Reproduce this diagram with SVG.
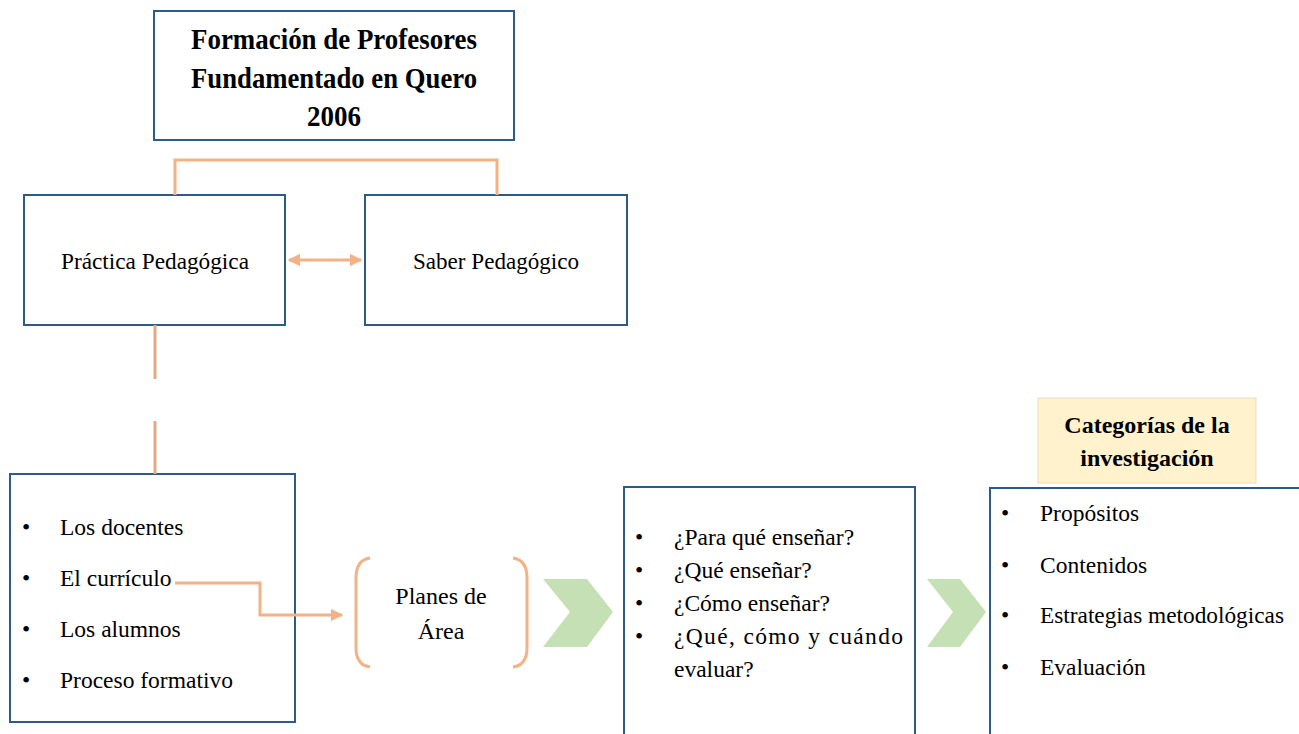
<svg xmlns="http://www.w3.org/2000/svg" width="1299" height="734" viewBox="0 0 1299 734">
<style>
.box{fill:#fff;stroke:#2E5A87;stroke-width:2}
.t{font-family:"Liberation Serif","Times New Roman",serif;fill:#000}
.b{font-weight:bold}
.c{stroke:#F4B183;stroke-width:3;fill:none}
.chev{fill:#C5E0B4}
</style>
<defs>
<marker id="ah" viewBox="0 0 10 10" refX="9" refY="5" markerWidth="4.2" markerHeight="4.2" orient="auto-start-reverse" markerUnits="strokeWidth">
<path d="M0,0 L10,5 L0,10 z" fill="#F4B183"/>
</marker>
</defs>
<rect width="1299" height="734" fill="#fff"/>
<g id="titulo">
<rect class="box" x="154" y="11" width="360" height="129"/>
<text class="t b" x="191" y="49" font-size="29" textLength="286" lengthAdjust="spacingAndGlyphs">Formación de Profesores</text>
<text class="t b" x="191" y="88" font-size="29" textLength="286" lengthAdjust="spacingAndGlyphs">Fundamentado  en Quero</text>
<text class="t b" x="334" y="126" font-size="29" text-anchor="middle" textLength="54" lengthAdjust="spacingAndGlyphs">2006</text>
</g>
<g id="practica">
<rect class="box" x="24" y="195" width="261" height="130"/>
<text class="t" x="61" y="269" font-size="24" textLength="188" lengthAdjust="spacingAndGlyphs">Práctica  Pedagógica</text>
</g>
<g id="saber">
<rect class="box" x="365" y="195" width="262" height="130"/>
<text class="t" x="413" y="269" font-size="24" textLength="166" lengthAdjust="spacingAndGlyphs">Saber Pedagógico</text>
</g>
<g id="elementos">
<rect class="box" x="10" y="474" width="285" height="248"/>
<g class="t" font-size="23.5">
<text x="22" y="535">•</text><text x="60" y="535">Los docentes</text>
<text x="22" y="586">•</text><text x="60" y="586">El currículo</text>
<text x="22" y="637">•</text><text x="60" y="637">Los alumnos</text>
<text x="22" y="688">•</text><text x="60" y="688">Proceso  formativo</text>
</g>
</g>
<g id="planes">
<path class="c" d="M370,558 Q356,560 356,578 L356,648 Q356,665 370,667"/>
<path class="c" d="M513,558 Q527,560 527,578 L527,648 Q527,665 513,667"/>
<text class="t" x="441" y="604" font-size="24" text-anchor="middle">Planes de</text>
<text class="t" x="441" y="639" font-size="24" text-anchor="middle">Área</text>
</g>
<g id="chevron1">
<polygon class="chev" points="543,579 587,579 613,612 587,647 543,647 570,612"/>
</g>
<g id="preguntas">
<rect class="box" x="624" y="487" width="291" height="260"/>
<g class="t" font-size="23.5">
<text x="635" y="545">•</text><text x="674" y="545">¿Para qué enseñar?</text>
<text x="635" y="578">•</text><text x="674" y="578">¿Qué enseñar?</text>
<text x="635" y="611">•</text><text x="674" y="611">¿Cómo enseñar?</text>
<text x="635" y="644">•</text><text x="674" y="644" textLength="229" lengthAdjust="spacing">¿Qué, cómo y cuándo</text>
<text x="674" y="677">evaluar?</text>
</g>
</g>
<g id="chevron2">
<polygon class="chev" points="927,579 960,579 986,612 960,647 927,647 953,612"/>
</g>
<g id="categorias-titulo">
<rect x="1038" y="398" width="218" height="85" fill="#FFF2CC" stroke="#E8DDBF" stroke-width="1"/>
<text class="t b" x="1147" y="433" font-size="24" text-anchor="middle">Categorías de la</text>
<text class="t b" x="1147" y="466" font-size="24" text-anchor="middle">investigación</text>
</g>
<g id="categorias">
<rect class="box" x="990" y="488" width="320" height="260"/>
<g class="t" font-size="23.5">
<text x="1001" y="521">•</text><text x="1040" y="521">Propósitos</text>
<text x="1001" y="573">•</text><text x="1040" y="573">Contenidos</text>
<text x="1001" y="623">•</text><text x="1040" y="623" textLength="244" lengthAdjust="spacingAndGlyphs">Estrategias  metodológicas</text>
<text x="1001" y="675">•</text><text x="1040" y="675">Evaluación</text>
</g>
</g>
<g id="connectors">
<polyline class="c" points="175,195 175,160 497,160 497,195"/>
<line class="c" x1="289" y1="260" x2="361" y2="260" marker-start="url(#ah)" marker-end="url(#ah)"/>
<line class="c" x1="155" y1="325" x2="155" y2="379" style="stroke:#E3A884"/>
<line class="c" x1="155" y1="421" x2="155" y2="474" style="stroke:#E3A884"/>
<polyline class="c" points="175,583 260,583 260,615 342,615" marker-end="url(#ah)"/>
</g>
</svg>
